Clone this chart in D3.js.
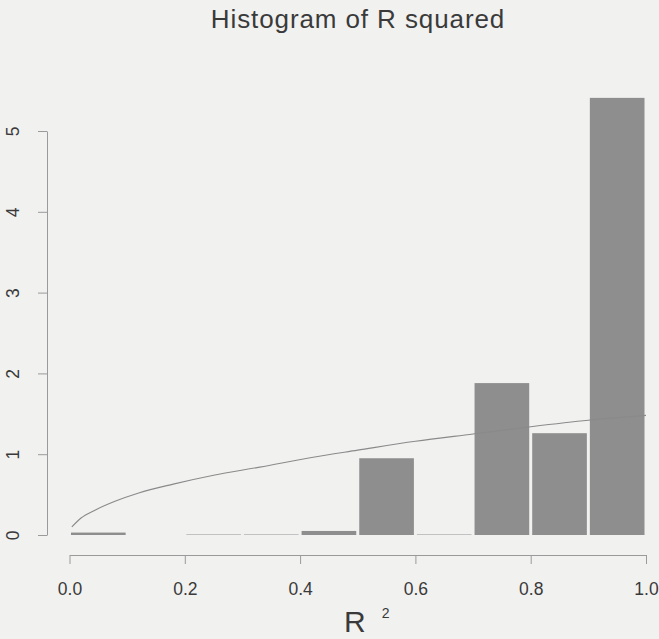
<!DOCTYPE html>
<html lang="en">
<head>
    <meta charset="utf-8">
    <title>Histogram of R squared</title>
    <style>
        body { margin: 0; background: #f1f1f0; }
        svg { display: block; font-family: "Liberation Sans", Arial, sans-serif; }
        .axis path, .axis line { stroke: #9a9a9a; stroke-width: 1; }
        .axis text { fill: #3a3a3a; font-size: 17.5px; }
    </style>
</head>
<body>
    <div id="chart"></div>

    <script src="https://cdn.jsdelivr.net/npm/d3@7"></script>
    <script>
        // histogram bins (left edges) and their densities
        const bin_starts = [0.0, 0.1, 0.2, 0.3, 0.4, 0.5, 0.6, 0.7, 0.8, 0.9];
        const densities = [0.03, null, 0, 0, 0.05, 0.95, 0, 1.88, 1.26, 5.41];
        const bin_width = 0.1;

        // the thin reference curve
        const curve_x = [0.004, 0.02, 0.045, 0.08, 0.12, 0.18, 0.25, 0.33, 0.42, 0.5, 0.6, 0.7, 0.8, 0.9, 1.0];
        const curve_y = [0.10, 0.21, 0.31, 0.42, 0.52, 0.63, 0.74, 0.84, 0.96, 1.05, 1.16, 1.25, 1.34, 1.42, 1.48];

        const x_ticks = [0, 0.2, 0.4, 0.6, 0.8, 1.0];
        const y_ticks = [0, 1, 2, 3, 4, 5];

        const container_dimensions = {width: 659, height: 639},
            plot = {left: 69.5, right: 646, top: 131, bottom: 535},
            y_axis_x = 47,
            x_axis_y = 555;

        const svg = d3.select('#chart')
            .append('svg')
                .attr('width', container_dimensions.width)
                .attr('height', container_dimensions.height);

        svg.append('rect')
            .attr('width', container_dimensions.width)
            .attr('height', container_dimensions.height)
            .attr('fill', '#f1f1f0');

        const x_scale = d3.scaleLinear()
            .domain([0, 1])
            .range([plot.left, plot.right]);

        const y_scale = d3.scaleLinear()
            .domain([0, 5])
            .range([plot.bottom, plot.top]);

        // bars
        const bins = bin_starts.map((x0, i) => ({x0: x0, x1: x0 + bin_width, d: densities[i]}))
            .filter(b => b.d !== null);

        svg.append('g')
            .selectAll('rect.bar')
            .data(bins)
            .join('rect')
                .attr('class', 'bar')
                .attr('x', b => x_scale(b.x0) + 1.5)
                .attr('width', b => x_scale(b.x1) - x_scale(b.x0) - 3)
                .attr('y', b => b.d > 0 ? y_scale(b.d) : y_scale(0) - 1)
                .attr('height', b => b.d > 0 ? y_scale(0) - y_scale(b.d) : 1)
                .attr('fill', b => b.d > 0 ? '#8e8e8e' : '#c2c2c2');

        // curve
        const line = d3.line()
            .x((d, i) => x_scale(curve_x[i]))
            .y(d => y_scale(d))
            .curve(d3.curveMonotoneX);

        svg.append('path')
            .attr('d', line(curve_y))
            .attr('fill', 'none')
            .attr('stroke', '#8a8a8a')
            .attr('stroke-width', 1.1);

        // x axis
        const x_axis = d3.axisBottom(x_scale)
            .tickValues(x_ticks)
            .tickFormat(d3.format('.1f'))
            .tickSizeOuter(0)
            .tickSizeInner(9)
            .tickPadding(19);
        svg.append('g')
            .attr('class', 'x axis')
            .attr('transform', `translate(0, ${x_axis_y})`)
            .call(x_axis);

        // y axis, labels turned like R does
        const y_axis = d3.axisLeft(y_scale)
            .tickValues(y_ticks)
            .tickFormat(d3.format('d'))
            .tickSizeOuter(0)
            .tickSizeInner(9);
        const y_g = svg.append('g')
            .attr('class', 'y axis')
            .attr('transform', `translate(${y_axis_x}, 0)`)
            .call(y_axis);
        y_g.selectAll('.tick text')
            .attr('x', 0)
            .attr('dy', 0)
            .attr('text-anchor', 'middle')
            .attr('transform', 'translate(-28, 0) rotate(-90)');

        svg.selectAll('.domain').attr('fill', 'none');

        // title
        svg.append('text')
            .attr('x', 358)
            .attr('y', 28)
            .attr('text-anchor', 'middle')
            .attr('font-size', '26px')
            .attr('letter-spacing', '0.9px')
            .attr('fill', '#3a3a3a')
            .text('Histogram of R squared');

        // x label R^2
        const x_label = svg.append('text')
            .attr('x', 344)
            .attr('y', 632)
            .attr('fill', '#3a3a3a')
            .attr('font-size', '30px');
        x_label.append('tspan').text('R');
        x_label.append('tspan')
            .attr('dx', 16)
            .attr('y', 618)
            .attr('font-size', '14px')
            .text('2');
    </script>
</body>
</html>
